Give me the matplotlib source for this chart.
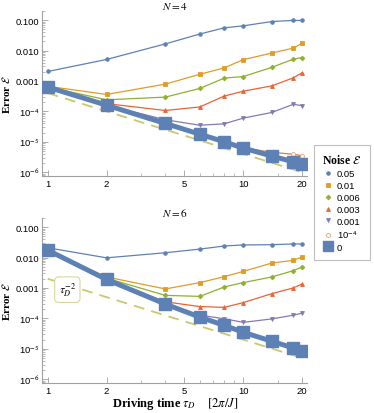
import matplotlib
matplotlib.use("Agg")
import matplotlib.pyplot as plt
from matplotlib.lines import Line2D
from matplotlib.ticker import LogLocator, FixedLocator, FixedFormatter, NullFormatter

plt.rcParams['mathtext.fontset'] = 'stix'
plt.rcParams['font.family'] = ['Liberation Sans', 'DejaVu Sans']

tau = [1, 2, 4, 6, 8, 10, 14, 18, 20]
noise_labels = ["0.05", "0.01", "0.006", "0.003", "0.001", r"10$^{\mathsf{-4}}$", "0"]

n4_005 = [2.05e-3, 5.1e-3, 1.66e-2, 3.5e-2, 5.6e-2, 6.5e-2, 9.0e-2, 9.8e-2, 9.8e-2]
n4_001 = [6.7e-4, 3.6e-4, 7.9e-4, 1.66e-3, 2.7e-3, 5.0e-3, 8.3e-3, 1.2e-2, 1.73e-2]
n4_0006 = [6.4e-4, 2.4e-4, 2.95e-4, 5.7e-4, 1.24e-3, 1.4e-3, 2.8e-3, 5.2e-3, 5.9e-3]
n4_0003 = [6.3e-4, 1.8e-4, 1.07e-4, 1.4e-4, 3.2e-4, 4.6e-4, 6.9e-4, 1.26e-3, 1.85e-3]
n4_0001 = [6.2e-4, 1.6e-4, 5.3e-5, 3.5e-5, 3.9e-5, 6.0e-5, 9.2e-5, 1.7e-4, 1.55e-4]
n4_1em4 = [6.3e-4, 1.6e-4, 4.0e-5, 1.8e-5, 1.0e-5, 6.4e-6, 4.5e-6, 3.9e-6, 3.5e-6]
n4_0 = [6.3e-4, 1.6e-4, 4.0e-5, 1.78e-5, 1.0e-5, 6.2e-6, 3.4e-6, 2.2e-6, 1.85e-6]

n6_005 = [2.1e-2, 9.8e-3, 1.44e-2, 1.9e-2, 2.4e-2, 2.6e-2, 2.65e-2, 2.8e-2, 2.8e-2]
n6_001 = [1.75e-2, 2.3e-3, 9.3e-4, 1.5e-3, 2.36e-3, 3.5e-3, 6.6e-3, 8.1e-3, 1.05e-2]
n6_0006 = [1.75e-2, 2.1e-3, 5.7e-4, 5.3e-4, 1.08e-3, 1.5e-3, 2.3e-3, 3.7e-3, 4.9e-3]
n6_0003 = [1.75e-2, 2.0e-3, 3.5e-4, 2.45e-4, 2.3e-4, 3.3e-4, 6.5e-4, 1.0e-3, 1.35e-3]
n6_0001 = [1.75e-2, 2.0e-3, 3.1e-4, 1.28e-4, 9.7e-5, 7.4e-5, 9.6e-5, 1.27e-4, 1.48e-4]
n6_1em4 = [1.75e-2, 1.9e-3, 2.95e-4, 1.1e-4, 6.0e-5, 3.6e-5, 1.85e-5, 1.15e-5, 9.2e-6]
n6_0 = [1.75e-2, 1.9e-3, 2.95e-4, 1.1e-4, 5.9e-5, 3.5e-5, 1.77e-5, 1.07e-5, 8.5e-6]

fit_tau = [1, 20]
fit_coef_n4 = 4.0e-4
fit_coef_n6 = 2.0e-3

colors = ['#5E81B5', '#E19C24', '#8FB032', '#EB6235', '#8778B3', '#E8A060', '#5E81B5']
markers = ['o', 's', 'D', '^', 'v', 'o', 's']
msizes = [2.6, 2.6, 2.4, 2.8, 2.8, 2.8, 8]
dash_color = '#C9C86E'

fig = plt.figure(figsize=(3.74, 4.14), dpi=100)
ax1 = fig.add_axes([42/374, 1-177/414, 265/374, 165/414])
ax2 = fig.add_axes([42/374, 1-384/414, 265/374, 165/414])

def draw(ax, series, coef, title):
    ax.set_xscale('log')
    ax.set_yscale('log')
    xs = [t for t in fit_tau]
    ax.plot(xs, [coef * t**-2 for t in xs], ls=(0, (6, 4)), color=dash_color, lw=1.3, zorder=1)
    for i, ys in enumerate(series[:-1]):
        mfc = 'white' if i == 5 else colors[i]
        col = '#D08040' if i == 5 else colors[i]
        ax.plot(tau, ys, color=col, lw=0.9, marker=markers[i], ms=msizes[i],
                mfc=mfc, mec=colors[i], mew=0.6, zorder=2 + i)
    ax.plot(tau, series[-1], color=colors[-1], lw=3.6, marker='s', ms=8,
            mec='#5E81B5', zorder=10, solid_joinstyle='round')
    ax.set_xlim(0.935, 21.2)
    ax.set_ylim(7.5e-7, 0.2)
    for s in ['top', 'right']:
        ax.spines[s].set_visible(False)
    for s in ['left', 'bottom']:
        ax.spines[s].set_color('#A0A0A0')
        ax.spines[s].set_linewidth(0.8)
    ax.xaxis.set_major_locator(FixedLocator([1, 2, 5, 10, 20]))
    ax.xaxis.set_major_formatter(FixedFormatter(['1', '2', '5', '10', '20']))
    ax.xaxis.set_minor_locator(FixedLocator([3, 4, 6, 7, 8, 9, 15]))
    ax.xaxis.set_minor_formatter(NullFormatter())
    yt = [1e-6, 1e-5, 1e-4, 1e-3, 1e-2, 1e-1]
    ax.yaxis.set_major_locator(FixedLocator(yt))
    ax.yaxis.set_major_formatter(FixedFormatter([r'10$^{\mathsf{-6}}$', r'10$^{\mathsf{-5}}$',
                                                 r'10$^{\mathsf{-4}}$',
                                                 '0.001', '0.010', '0.100']))
    ax.yaxis.set_minor_locator(LogLocator(base=10, subs=range(2, 10), numticks=20))
    ax.yaxis.set_minor_formatter(NullFormatter())
    ax.tick_params(which='both', direction='in', color='#A0A0A0', labelsize=6.8, pad=2)
    ax.tick_params(which='major', length=4, width=0.6)
    ax.tick_params(which='minor', length=2, width=0.5)
    ax.set_title(title, fontsize=8, pad=1.5)
    ax.set_ylabel(r'Error $\mathcal{E}$', fontsize=8, family='Liberation Serif',
                  fontweight='bold')
    ax.yaxis.set_label_coords(-0.113, 0.5)

draw(ax1, [n4_005, n4_001, n4_0006, n4_0003, n4_0001, n4_1em4, n4_0], fit_coef_n4, r'$N = 4$')
draw(ax2, [n6_005, n6_001, n6_0006, n6_0003, n6_0001, n6_1em4, n6_0], fit_coef_n6, r'$N = 6$')

ax2.text(1.26, 8.8e-4, r'$\tau_D^{-2}$', fontsize=8.5, ha='center', va='center', zorder=20,
         bbox=dict(boxstyle='round,pad=0.35', fc='white', ec='#D8D89A', lw=0.8))

fig.text(0.468, 0.006, r'Driving time $\tau_D$    $[2\pi/J]$', fontsize=9,
         family='Liberation Serif', fontweight='bold', ha='center', va='bottom')

handles = []
for i in range(6):
    mfc = 'white' if i == 5 else colors[i]
    handles.append(Line2D([], [], ls='none', marker=markers[i], ms=msizes[i],
                          mfc=mfc, mec=colors[i], mew=0.6))
handles.append(Line2D([], [], ls='none', marker='s', ms=7, color=colors[-1]))
leg = fig.legend(handles, noise_labels, loc='upper left', bbox_to_anchor=(314/374, 1-146/414),
                 fontsize=6.8, title=r'Noise $\mathcal{E}$', frameon=True, fancybox=False,
                 handlelength=1.0, handletextpad=0.4, labelspacing=0.3, borderpad=0.9,
                 borderaxespad=0)
leg.get_title().set_fontweight('bold')
leg.get_title().set_family('Liberation Serif')
leg.get_title().set_fontsize(8.5)
leg.get_frame().set_edgecolor('#B0B0B0')
leg.get_frame().set_linewidth(0.8)

fig.savefig('out.png', dpi=100)
